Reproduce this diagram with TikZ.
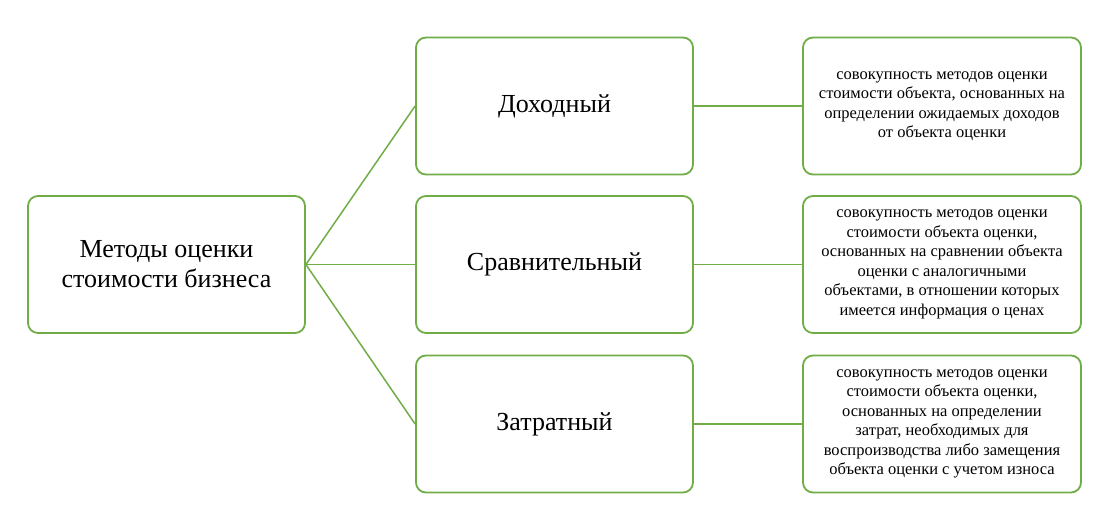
\documentclass[tikz,border=0pt]{standalone}
\usepackage{fontspec}
\setmainfont{Liberation Serif}
\definecolor{boxgreen}{HTML}{70AD47}
\begin{document}
\begin{tikzpicture}[x=1pt,y=-1pt]
  \tikzstyle{bigbox}=[draw=boxgreen, line width=1.8pt, rounded corners=10pt,
    minimum width=277pt, minimum height=137pt, align=center,
    font=\fontsize{26}{30}\selectfont]
  \tikzstyle{notebox}=[draw=boxgreen, line width=1.8pt, rounded corners=10pt,
    minimum width=278pt, minimum height=137pt, align=center,
    font=\fontsize{16.5}{19.5}\selectfont]
  \tikzstyle{link}=[draw=boxgreen, line width=1.5pt]
  \useasboundingbox (0,0) rectangle (1119,521);
  \node[bigbox] (root) at (166.5,264.5) {Методы оценки\\стоимости бизнеса};
  \node[bigbox] (income) at (554.5,106) {Доходный};
  \node[bigbox] (compare) at (554.5,264.5) {Сравнительный};
  \node[bigbox] (cost) at (554.5,424) {Затратный};
  \node[notebox] (incomenote) at (942,106) {совокупность методов оценки\\стоимости объекта, основанных на\\определении ожидаемых доходов\\от объекта оценки};
  \node[notebox] (comparenote) at (942,264.5) {совокупность методов оценки\\стоимости объекта оценки,\\основанных на сравнении объекта\\оценки с аналогичными\\объектами, в отношении которых\\имеется информация о ценах};
  \node[notebox] (costnote) at (942,424) {совокупность методов оценки\\стоимости объекта оценки,\\основанных на определении\\затрат, необходимых для\\воспроизводства либо замещения\\объекта оценки с учетом износа};
  \draw[link] (root.east) -- (income.west);
  \draw[link] (root.east) -- (compare.west);
  \draw[link] (root.east) -- (cost.west);
  \draw[link] (income.east) -- (incomenote.west);
  \draw[link] (compare.east) -- (comparenote.west);
  \draw[link] (cost.east) -- (costnote.west);
\end{tikzpicture}
\end{document}
